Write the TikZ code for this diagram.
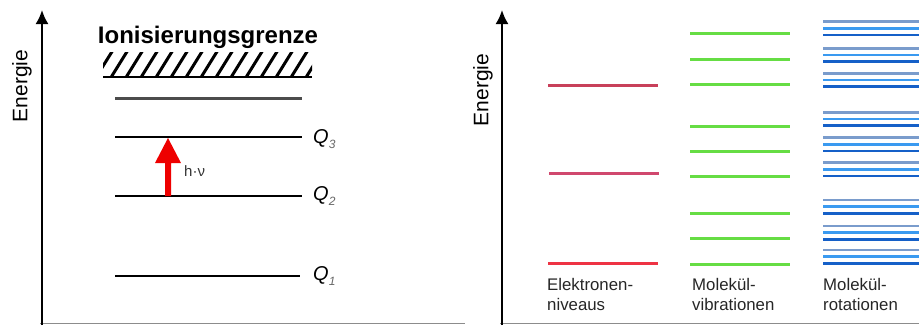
\documentclass[tikz,border=0pt]{standalone}
\usepackage{fontspec}
\setmainfont{Liberation Sans}
\usetikzlibrary{arrows.meta,calc}
\definecolor{redA}{HTML}{C8405A}
\definecolor{redB}{HTML}{D0486E}
\definecolor{redC}{HTML}{EE3344}
\definecolor{grn}{HTML}{66DD44}
\definecolor{blueA}{HTML}{7A9CCC}
\definecolor{blueB}{HTML}{3A9AF0}
\definecolor{blueC}{HTML}{1560C8}
\definecolor{arrowred}{HTML}{EE0000}
\tikzset{
  axisline/.style={line width=2pt, black, -{Latex[length=14pt,width=13pt]}},
  baseline/.style={line width=1.5pt, black!45},
  level/.style={line width=2pt, black},
  elevel/.style={line width=3pt},
  vlevel/.style={line width=3pt, grn},
  rlevel/.style={line width=2.6pt},
  axlabel/.style={font=\fontsize{21}{21}\selectfont, rotate=90},
  qlabel/.style={font=\fontsize{20}{20}\selectfont\itshape, anchor=west, inner sep=0pt},
  caption/.style={font=\fontsize{16.8}{20}\selectfont, text=black!85, align=left, anchor=north west, inner sep=0pt},
}
\newcommand{\qsub}[1]{\raisebox{-5pt}{\fontsize{12}{12}\selectfont\color{black!60}#1}}
\begin{document}
\begin{tikzpicture}[x=1pt,y=-1pt]
\useasboundingbox (0,0) rectangle (919,325);
% ---------- left panel ----------
\coordinate (ax1b) at (42,325);
\coordinate (ax1t) at (42,10);
\coordinate (bl1a) at (40,323.5);
\coordinate (bl1b) at (465,323.5);
\draw[baseline] (bl1a) -- (bl1b);
\draw[axisline] (ax1b) -- (ax1t);
\node[axlabel] (en1) at (22,86) {Energie};
\node[font=\fontsize{24}{24}\selectfont\bfseries, inner sep=0pt] (ion) at (208,37) {Ionisierungsgrenze};
% hatched band
\begin{scope}
\clip (103,52) rectangle (312,77);
\foreach \i in {0,...,15} {
  \draw[line width=3pt] ({95+15*\i},79) -- ({95+15*\i+18},50);
}
\end{scope}
\draw[line width=2.5pt] (103,77) -- (312,77);
% levels
\draw[line width=3pt, black!70] (115,98) -- (302,98);
\coordinate (q3a) at (115,137); \coordinate (q3b) at (302,137);
\coordinate (q2a) at (115,196); \coordinate (q2b) at (302,196);
\coordinate (q1a) at (115,276); \coordinate (q1b) at (300,276);
\draw[level] (q3a) -- (q3b);
\draw[level] (q2a) -- (q2b);
\draw[level] (q1a) -- (q1b);
\node[qlabel] (Q3) at (313,139) {Q\qsub{3}};
\node[qlabel] (Q2) at (313,196) {Q\qsub{2}};
\node[qlabel] (Q1) at (313,276) {Q\qsub{1}};
% red arrow
\coordinate (arrbot) at (168,196);
\coordinate (arrtop) at (168,138);
\fill[arrowred] ($(arrbot)+(-3,0)$) -- (165,163) -- (155,163) -- (arrtop) -- (181,163) -- (171,163) -- ($(arrbot)+(3,0)$) -- cycle;
\node[font=\fontsize{15}{15}\selectfont, text=black!80, anchor=west, inner sep=0pt] (hv) at (184,171) {h·ν};
% ---------- right panel ----------
\coordinate (ax2b) at (502,325);
\coordinate (ax2t) at (502,10);
\coordinate (bl2a) at (500,323.5);
\coordinate (bl2b) at (919,323.5);
\draw[baseline] (bl2a) -- (bl2b);
\draw[axisline] (ax2b) -- (ax2t);
\node[axlabel] (en2) at (483,90) {Energie};
% electron levels
\draw[elevel, redA] (548,85) -- (658,85);
\draw[elevel, redB] (549,173) -- (659,173);
\draw[elevel, redC] (548,263) -- (658,263);
% vibration levels
\foreach \y in {33,59,84,126,151,176,213,238,264} {
  \draw[vlevel] (690,\y) -- (790,\y);
}
% rotation levels
\foreach \y in {21.7,48.3,73.3,112.3,137.7,162.7,200,226,250} {
  \draw[rlevel, blueA] (823,\y) -- (919,\y);
  \draw[rlevel, blueB] (823,\y+6.6) -- (919,\y+6.6);
  \draw[rlevel, blueC] (823,\y+13.2) -- (919,\y+13.2);
}
\node[caption] (c1) at (547,278) {Elektronen-\\niveaus};
\node[caption] (c2) at (692,278) {Molekül-\\vibrationen};
\node[caption] (c3) at (823,278) {Molekül-\\rotationen};
\end{tikzpicture}
\end{document}
